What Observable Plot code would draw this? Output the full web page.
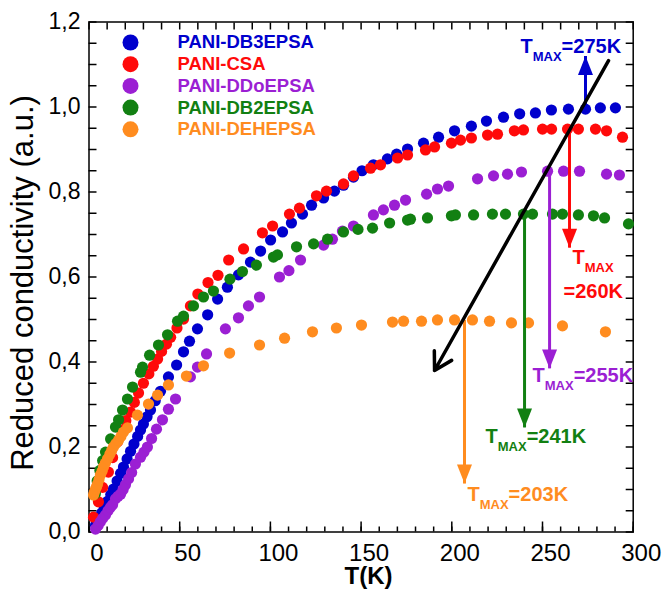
<!DOCTYPE html>
<html><head><meta charset="utf-8">
<script src="https://cdn.jsdelivr.net/npm/d3@7"></script>
<script src="https://cdn.jsdelivr.net/npm/@observablehq/plot@0.6"></script>
<style>html,body{margin:0;padding:0;background:#fff}</style>
</head><body><div id="chart"></div>
<script>
const seriesNames = ["PANI-DB3EPSA","PANI-CSA","PANI-DDoEPSA","PANI-DB2EPSA","PANI-DEHEPSA"];
const seriesColors = ["#0000cd","#ff0a0a","#9b1fd3","#128012","#ff8c1f"];

const db3T = [3.6,5,7,8.5,10.2,12,13.5,15.5,17.4,19,21,22.9,24.8,26.8,28.4,30,32,33.9,36.5,39.4,43.8,48.3,52.1,55.4,59.8,65.4,70.9,76.3,82.4,89.0,94.6,100.1,106.7,111.6,117.7,122.7,129.3,135.3,140.3,145.8,150.5,156.8,164.5,169.6,175.6,184.4,192.7,201.5,210.8,219.1,228.5,237.4,246.1,254.9,264.3,273.7,281.9,290.2];
const db3V = [0.016,0.028,0.045,0.057,0.072,0.088,0.101,0.12,0.138,0.153,0.172,0.19,0.207,0.225,0.24,0.254,0.271,0.287,0.309,0.331,0.365,0.393,0.424,0.449,0.478,0.511,0.548,0.576,0.605,0.635,0.661,0.687,0.706,0.727,0.748,0.769,0.786,0.802,0.816,0.835,0.85,0.864,0.878,0.889,0.901,0.915,0.929,0.944,0.955,0.967,0.976,0.984,0.986,0.993,0.995,0.995,0.998,0.998];

const csaT = [2.5,5.2,7.5,10.7,13,15.7,18,20.3,22.9,25,27.3,30,33,35.5,37.8,40,42.7,45,48.5,52.1,55.9,60,65.6,71.1,77.0,85.2,95.6,101.2,110.5,116.0,125.4,130.9,140.3,145.8,155.2,160.7,170.1,175.6,185.5,190.5,199.8,204.8,210.8,219.7,225.2,234.5,239.5,250.0,255.0,263.8,269.8,279.2,285.3,294.1];
const csaV = [0.035,0.071,0.105,0.141,0.175,0.212,0.24,0.262,0.282,0.305,0.327,0.35,0.372,0.39,0.407,0.425,0.442,0.458,0.48,0.501,0.532,0.56,0.587,0.604,0.64,0.666,0.704,0.72,0.748,0.762,0.791,0.802,0.819,0.838,0.856,0.864,0.88,0.887,0.899,0.906,0.915,0.922,0.927,0.934,0.936,0.944,0.946,0.948,0.948,0.948,0.948,0.948,0.944,0.929];

const ddoT = [3.6,5,6.3,7.5,9.1,10.5,11.8,13.0,14.6,16,17.4,18.8,20.1,21.8,23.5,25.6,28.4,30.3,32.2,34.5,37.2,40.5,43.8,47.7,55.9,59.8,64.8,75.2,82.4,87.9,94.0,105.0,110.2,116.6,129.3,134.2,139.7,145.8,156.8,162.3,168.4,174.5,186.1,192.1,198.2,214.2,223.0,230.7,238.4,252.8,261.6,270.4,285.3,292.4];
const ddoV = [0.007,0.015,0.024,0.032,0.04,0.05,0.058,0.064,0.078,0.084,0.089,0.1,0.111,0.125,0.14,0.16,0.176,0.188,0.2,0.22,0.242,0.264,0.289,0.313,0.365,0.388,0.419,0.478,0.504,0.532,0.553,0.6,0.615,0.64,0.675,0.689,0.708,0.72,0.746,0.758,0.769,0.781,0.795,0.807,0.814,0.831,0.838,0.842,0.847,0.849,0.849,0.849,0.842,0.84];

const db2T = [3.5,4.5,6,7.5,9.1,11.9,14.6,16.3,18.5,21.2,24.0,28.4,29.5,33.4,38.3,43.3,48.8,52.1,57.6,63.1,68.6,77.7,84.6,92.3,101.7,103.9,114.4,123.8,131.5,140.3,148.3,156.3,165.7,175.6,177.2,186.6,199.8,202.0,212.0,222.4,229.6,239.5,244.5,255.5,261.0,269.8,278.1,284.2,297.4];
const db2V = [0.09,0.12,0.145,0.168,0.188,0.219,0.247,0.264,0.287,0.313,0.341,0.376,0.388,0.416,0.44,0.464,0.496,0.508,0.532,0.553,0.567,0.595,0.613,0.628,0.647,0.652,0.671,0.678,0.689,0.706,0.712,0.715,0.727,0.734,0.736,0.739,0.744,0.746,0.746,0.748,0.748,0.748,0.748,0.748,0.748,0.746,0.744,0.739,0.725];

const dehT = [2.5,3,3.6,4.2,4.7,5.5,6.3,7.2,8.0,9,10.2,11.5,12.5,13.5,14.8,16.3,17.6,19.0,21.2,26.7,32.8,37.8,43.8,53.7,63.1,77.5,94.0,107.8,123.2,136.4,150.2,167.3,173.4,183.3,192.1,201.5,211.4,220.8,232.9,242.3,261.0,284.7];
const dehV = [0.087,0.094,0.101,0.107,0.113,0.123,0.134,0.143,0.153,0.162,0.172,0.183,0.192,0.2,0.208,0.216,0.225,0.235,0.245,0.275,0.301,0.322,0.346,0.367,0.391,0.421,0.44,0.456,0.471,0.48,0.487,0.494,0.496,0.496,0.499,0.499,0.499,0.496,0.492,0.492,0.485,0.471];

// T_MAX annotations (same order as series)
const tmaxLabels = [275, 260, 255, 241, 203];
const tmaxT = [273.7, 264.9, 253.9, 240.1, 207.0];
const tmaxPeakV = [1.0, 0.948, 0.849, 0.748, 0.499];
const tmaxTipV = [1.12, 0.669, 0.385, 0.246, 0.114];

// trend arrow
const trendT = [286.4, 190.5];
const trendV = [1.109, 0.38];

const xTicksMinor = d3.range(0, 301, 10);
const xTicksMajor = d3.range(0, 301, 50);
const yTicksMinor = d3.range(0, 1.2001, 0.05);
const yTicksMajor = [0, 0.2, 0.4, 0.6, 0.8, 1.0, 1.2];

const seriesT = [db3T, csaT, ddoT, db2T, dehT];
const seriesV = [db3V, csaV, ddoV, db2V, dehV];
const drawOrder = [0, 1, 2, 3, 4];

const FONT = "'Liberation Sans', Arial, Helvetica, sans-serif";

const marks = [];
// ticks
marks.push(
  Plot.axisX(xTicksMinor, {anchor: "bottom", tickSize: -5, strokeWidth: 1.5, fill: "none", label: null}),
  Plot.axisX(xTicksMajor, {anchor: "bottom", tickSize: -10, strokeWidth: 1.5, fill: "none", label: null}),
  Plot.axisX(xTicksMajor, {anchor: "bottom", tickSize: 0, tickPadding: 12, dx: 8, fontSize: 24, label: null, tickFormat: d => String(d)}),
  Plot.axisX(xTicksMinor, {anchor: "top", tickSize: -7, strokeWidth: 1.5, fill: "none", label: null}),
  Plot.axisY(yTicksMinor, {anchor: "left", tickSize: -8, strokeWidth: 1.5, fill: "none", label: null}),
  Plot.axisY(yTicksMajor, {anchor: "left", tickSize: 0, tickPadding: 8.5, fontSize: 23, label: null, tickFormat: d => d.toFixed(1).replace(".", ",")}),
  Plot.axisY(yTicksMinor, {anchor: "right", tickSize: -8, strokeWidth: 1.5, fill: "none", label: null}),
  Plot.frame({strokeWidth: 1.5})
);

// data dots
for (const i of drawOrder) {
  const rows = seriesT[i].map((t, j) => ({T: t, V: seriesV[i][j]}));
  marks.push(Plot.dot(rows, {x: "T", y: "V", r: 5.6, fill: seriesColors[i], stroke: "none"}));
}

// T_MAX arrows
const triangle = {
  draw(ctx) { ctx.moveTo(0, 0); ctx.lineTo(-7.5, 19); ctx.lineTo(7.5, 19); ctx.closePath(); }
};
const ann = tmaxLabels.map((k, i) => ({k, T: tmaxT[i], peak: tmaxPeakV[i], tip: tmaxTipV[i], color: seriesColors[i], up: tmaxTipV[i] > tmaxPeakV[i]}));
for (const a of ann) {
  marks.push(Plot.link([a], {x1: "T", x2: "T", y1: "peak", y2: "tip", stroke: a.color, strokeWidth: 3}));
  marks.push(Plot.dot([a], {x: "T", y: "tip", symbol: triangle, r: 8, fill: a.color, stroke: "none", rotate: a.up ? 0 : 180}));
}
const labelOffsets = [[-65, -3], [3, 16], [-17, 14], [-39, 16], [3, 17]];
ann.forEach((a, i) => {
  const txt = i === 1 ? "T§MAX" : "T§MAX§=" + a.k + "K";
  marks.push(Plot.text([a], {x: "T", y: "tip", text: () => txt, dx: labelOffsets[i][0], dy: labelOffsets[i][1],
    fill: a.color, fontSize: 20, fontWeight: "bold", textAnchor: "start", lineAnchor: "bottom"}));
  if (i === 1) {
    marks.push(Plot.text([a], {x: "T", y: "tip", text: d => "=" + d.k + "K", dx: -6, dy: 50,
      fill: a.color, fontSize: 20, fontWeight: "bold", textAnchor: "start", lineAnchor: "bottom"}));
  }
});

// trend arrow
marks.push(Plot.arrow([{x1: trendT[0], y1: trendV[0], x2: trendT[1], y2: trendV[1]}],
  {x1: "x1", y1: "y1", x2: "x2", y2: "y2", stroke: "black", strokeWidth: 3.5, headLength: 8.5}));

// legend
seriesNames.forEach((name, i) => {
  marks.push(Plot.dot([name], {frameAnchor: "top-left", dx: 41.5, dy: 20.5 + 21.7 * i, r: 8, fill: seriesColors[i], stroke: "none"}));
  marks.push(Plot.text([name], {frameAnchor: "top-left", dx: 88.5, dy: 20.5 + 21.7 * i, text: d => d, fill: seriesColors[i],
    fontSize: 18.5, fontWeight: "bold", textAnchor: "start", lineAnchor: "middle"}));
});

// axis titles
marks.push(Plot.text(["T(K)"], {frameAnchor: "bottom", text: d => d, dx: 7.5, dy: 52, textAnchor: "middle", lineAnchor: "bottom", fontSize: 24, fontWeight: "bold", fill: "black"}));
marks.push(Plot.text(["Reduced conductivity (a.u.)"], {frameAnchor: "left", text: d => d, dx: -56.5, dy: 6, rotate: -90, textAnchor: "middle", lineAnchor: "bottom", fontSize: 31, fill: "black"}));

const svg = Plot.plot({
  width: 663, height: 594,
  marginLeft: 88.5, marginRight: 30.3, marginTop: 21.5, marginBottom: 62.5,
  x: {domain: [0, 300]},
  y: {domain: [0, 1.2]},
  style: {fontFamily: FONT, background: "white", color: "black", overflow: "visible"},
  marks
});

d3.select(svg).selectAll("text").each(function () {
  const s = this.textContent;
  if (!s.includes("§")) return;
  const parts = s.split("§");
  const sel = d3.select(this);
  sel.text(null);
  sel.append("tspan").text(parts[0]);
  sel.append("tspan").attr("font-size", 13).attr("dy", 8).text(parts[1]);
  if (parts[2]) sel.append("tspan").attr("dy", -8).text(parts[2]);
});

document.getElementById("chart").appendChild(svg);
</script>
</body></html>
